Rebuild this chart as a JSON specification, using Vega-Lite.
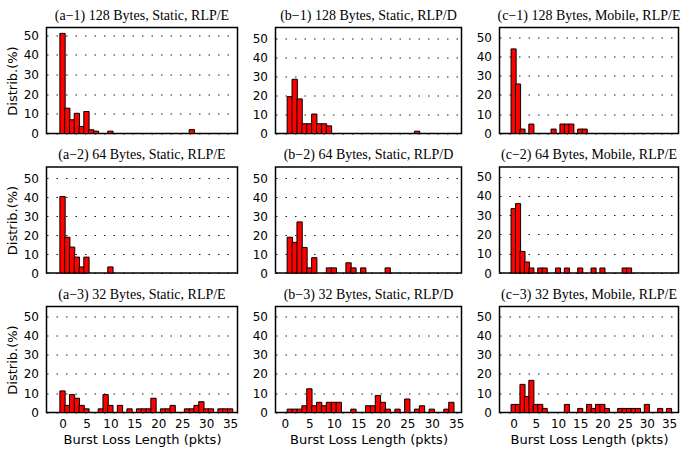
{
  "$schema": "https://vega.github.io/schema/vega-lite/v6.json",
  "background": "white",
  "padding": {"left": 4.5, "top": 7.5, "right": 0, "bottom": 4},
  "config": {
    "view": {"stroke": "black", "strokeWidth": 1.5},
    "font": "DejaVu Sans",
    "axis": {"domain": false, "ticks": false, "tickSize": 0, "labelFont": "DejaVu Sans", "labelFontSize": 12, "labelColor": "black", "titleFont": "DejaVu Sans", "titleFontSize": 13, "titleFontWeight": "normal", "titleColor": "black", "labelFlush": false, "labelOverlap": false},
    "axisY": {"grid": true, "gridColor": "black", "gridDash": [1.5, 8], "gridWidth": 1, "gridOpacity": 0.9, "labelPadding": 8, "titlePadding": 4},
    "axisX": {"grid": false, "labelPadding": 6, "titlePadding": 4},
    "title": {"font": "Liberation Serif", "fontSize": 14, "fontWeight": "normal", "color": "black", "offset": 5, "baseline": "alphabetic", "anchor": "middle"},
    "bar": {"fill": "#ff0000", "stroke": "black", "strokeWidth": 1}
  },
  "datasets": {
    "a1": [{"len":0,"pct":51},{"len":1,"pct":12.9},{"len":2,"pct":7},{"len":3,"pct":10.3},{"len":4,"pct":3.6},{"len":5,"pct":11.2},{"len":6,"pct":1.9},{"len":7,"pct":1.2},{"len":10,"pct":1.2},{"len":27,"pct":2}],
    "a2": [{"len":0,"pct":40.4},{"len":1,"pct":18.9},{"len":2,"pct":13.7},{"len":3,"pct":8.4},{"len":4,"pct":3.2},{"len":5,"pct":8.4},{"len":10,"pct":3.2}],
    "a3": [{"len":0,"pct":11.2},{"len":1,"pct":3.7},{"len":2,"pct":9.3},{"len":3,"pct":7.4},{"len":4,"pct":3.7},{"len":5,"pct":1.9},{"len":8,"pct":1.9},{"len":9,"pct":9.3},{"len":10,"pct":3.7},{"len":12,"pct":3.7},{"len":14,"pct":1.9},{"len":16,"pct":1.9},{"len":17,"pct":1.9},{"len":18,"pct":1.9},{"len":19,"pct":7.4},{"len":21,"pct":1.9},{"len":22,"pct":1.9},{"len":23,"pct":3.7},{"len":26,"pct":1.9},{"len":27,"pct":1.9},{"len":28,"pct":3.7},{"len":29,"pct":5.6},{"len":30,"pct":1.9},{"len":31,"pct":1.9},{"len":33,"pct":1.9},{"len":34,"pct":1.9},{"len":35,"pct":1.9}],
    "b1": [{"len":1,"pct":19.3},{"len":2,"pct":28.4},{"len":3,"pct":18.1},{"len":4,"pct":5.1},{"len":5,"pct":5.1},{"len":6,"pct":10.2},{"len":7,"pct":5.1},{"len":8,"pct":5.1},{"len":9,"pct":4.0},{"len":27,"pct":1.2}],
    "b2": [{"len":1,"pct":18.9},{"len":2,"pct":16.2},{"len":3,"pct":27.0},{"len":4,"pct":13.5},{"len":5,"pct":2.7},{"len":6,"pct":8.1},{"len":9,"pct":2.7},{"len":10,"pct":2.7},{"len":13,"pct":5.4},{"len":14,"pct":2.7},{"len":16,"pct":2.7},{"len":21,"pct":2.7}],
    "b3": [{"len":1,"pct":1.75},{"len":2,"pct":1.75},{"len":3,"pct":1.75},{"len":4,"pct":3.5},{"len":5,"pct":12.3},{"len":6,"pct":3.5},{"len":7,"pct":5.3},{"len":8,"pct":3.5},{"len":9,"pct":5.3},{"len":10,"pct":5.3},{"len":11,"pct":5.3},{"len":14,"pct":1.75},{"len":17,"pct":3.5},{"len":18,"pct":3.5},{"len":19,"pct":8.8},{"len":20,"pct":5.3},{"len":21,"pct":1.75},{"len":23,"pct":1.75},{"len":25,"pct":7.0},{"len":27,"pct":1.75},{"len":28,"pct":3.5},{"len":30,"pct":1.75},{"len":33,"pct":1.75},{"len":34,"pct":5.3}],
    "c1": [{"len":0,"pct":43.9},{"len":1,"pct":25.7},{"len":2,"pct":2.3},{"len":4,"pct":4.9},{"len":9,"pct":2.3},{"len":11,"pct":4.9},{"len":12,"pct":4.9},{"len":13,"pct":4.9},{"len":15,"pct":2.3},{"len":16,"pct":2.3}],
    "c2": [{"len":0,"pct":33.4},{"len":1,"pct":36.0},{"len":2,"pct":11.2},{"len":3,"pct":5.7},{"len":4,"pct":2.6},{"len":6,"pct":2.6},{"len":7,"pct":2.6},{"len":10,"pct":2.6},{"len":12,"pct":2.6},{"len":15,"pct":2.6},{"len":18,"pct":2.6},{"len":20,"pct":2.6},{"len":25,"pct":2.6},{"len":26,"pct":2.6}],
    "c3": [{"len":0,"pct":4.2},{"len":1,"pct":4.2},{"len":2,"pct":14.6},{"len":3,"pct":8.3},{"len":4,"pct":16.7},{"len":5,"pct":4.2},{"len":6,"pct":4.2},{"len":7,"pct":2.1},{"len":12,"pct":4.2},{"len":15,"pct":2.1},{"len":17,"pct":4.2},{"len":18,"pct":2.1},{"len":19,"pct":4.2},{"len":20,"pct":4.2},{"len":21,"pct":2.1},{"len":24,"pct":2.1},{"len":25,"pct":2.1},{"len":26,"pct":2.1},{"len":27,"pct":2.1},{"len":28,"pct":2.1},{"len":30,"pct":4.2},{"len":33,"pct":2.1},{"len":35,"pct":2.1}]
  },
  "bounds": "flush",
  "columns": 3,
  "spacing": {"row": 33.5, "column": 38},
  "concat": [
    {"title": "(a−1) 128 Bytes, Static, RLP/E", "width": 191, "height": 106, "data": {"name": "a1"},
     "mark": {"type": "bar", "size": 5.3},
     "encoding": {
       "x": {"field": "len", "type": "quantitative", "scale": {"domain": [-2.3, 35.5], "nice": false, "zero": false}, "axis": null},
       "y": {"field": "pct", "type": "quantitative", "scale": {"domain": [0, 54], "nice": false}, "axis": {"values": [0,10,20,30,40,50], "title": "Distrib.(%)"}}
     }},
    {"title": "(b−1) 128 Bytes, Static, RLP/D", "width": 186, "height": 106, "data": {"name": "b1"},
     "mark": {"type": "bar", "size": 5.3},
     "encoding": {
       "x": {"field": "len", "type": "quantitative", "scale": {"domain": [-0.9, 35.05], "nice": false, "zero": false}, "axis": null},
       "y": {"field": "pct", "type": "quantitative", "scale": {"domain": [0, 55.5], "nice": false}, "axis": {"values": [0,10,20,30,40,50], "title": null}}
     }},
    {"title": "(c−1) 128 Bytes, Mobile, RLP/E", "width": 179, "height": 106, "data": {"name": "c1"},
     "mark": {"type": "bar", "size": 5.1},
     "encoding": {
       "x": {"field": "len", "type": "quantitative", "scale": {"domain": [-2.05, 36], "nice": false, "zero": false}, "axis": null},
       "y": {"field": "pct", "type": "quantitative", "scale": {"domain": [0, 55], "nice": false}, "axis": {"values": [0,10,20,30,40,50], "title": null}}
     }},
    {"title": "(a−2) 64 Bytes, Static, RLP/E", "width": 191, "height": 106, "data": {"name": "a2"},
     "mark": {"type": "bar", "size": 5.3},
     "encoding": {
       "x": {"field": "len", "type": "quantitative", "scale": {"domain": [-2.3, 35.5], "nice": false, "zero": false}, "axis": null},
       "y": {"field": "pct", "type": "quantitative", "scale": {"domain": [0, 56], "nice": false}, "axis": {"values": [0,10,20,30,40,50], "title": "Distrib.(%)"}}
     }},
    {"title": "(b−2) 64 Bytes, Static, RLP/D", "width": 186, "height": 106, "data": {"name": "b2"},
     "mark": {"type": "bar", "size": 5.3},
     "encoding": {
       "x": {"field": "len", "type": "quantitative", "scale": {"domain": [-0.9, 35.05], "nice": false, "zero": false}, "axis": null},
       "y": {"field": "pct", "type": "quantitative", "scale": {"domain": [0, 56], "nice": false}, "axis": {"values": [0,10,20,30,40,50], "title": null}}
     }},
    {"title": "(c−2) 64 Bytes, Mobile, RLP/E", "width": 179, "height": 106, "data": {"name": "c2"},
     "mark": {"type": "bar", "size": 5.1},
     "encoding": {
       "x": {"field": "len", "type": "quantitative", "scale": {"domain": [-2.05, 36], "nice": false, "zero": false}, "axis": null},
       "y": {"field": "pct", "type": "quantitative", "scale": {"domain": [0, 55], "nice": false}, "axis": {"values": [0,10,20,30,40,50], "title": null}}
     }},
    {"title": "(a−3) 32 Bytes, Static, RLP/E", "width": 191, "height": 106, "data": {"name": "a3"},
     "mark": {"type": "bar", "size": 5.3},
     "encoding": {
       "x": {"field": "len", "type": "quantitative", "scale": {"domain": [-2.3, 35.5], "nice": false, "zero": false}, "axis": {"values": [0,5,10,15,20,25,30,35], "title": "Burst Loss Length (pkts)"}},
       "y": {"field": "pct", "type": "quantitative", "scale": {"domain": [0, 55], "nice": false}, "axis": {"values": [0,10,20,30,40,50], "title": "Distrib.(%)"}}
     }},
    {"title": "(b−3) 32 Bytes, Static, RLP/D", "width": 186, "height": 106, "data": {"name": "b3"},
     "mark": {"type": "bar", "size": 5.3},
     "encoding": {
       "x": {"field": "len", "type": "quantitative", "scale": {"domain": [-0.9, 35.05], "nice": false, "zero": false}, "axis": {"values": [0,5,10,15,20,25,30,35], "title": "Burst Loss Length (pkts)"}},
       "y": {"field": "pct", "type": "quantitative", "scale": {"domain": [0, 55], "nice": false}, "axis": {"values": [0,10,20,30,40,50], "title": null}}
     }},
    {"title": "(c−3) 32 Bytes, Mobile, RLP/E", "width": 179, "height": 106, "data": {"name": "c3"},
     "mark": {"type": "bar", "size": 5.1},
     "encoding": {
       "x": {"field": "len", "type": "quantitative", "scale": {"domain": [-2.05, 36], "nice": false, "zero": false}, "axis": {"values": [0,5,10,15,20,25,30,35], "title": "Burst Loss Length (pkts)"}},
       "y": {"field": "pct", "type": "quantitative", "scale": {"domain": [0, 55], "nice": false}, "axis": {"values": [0,10,20,30,40,50], "title": null}}
     }}
  ]
}
